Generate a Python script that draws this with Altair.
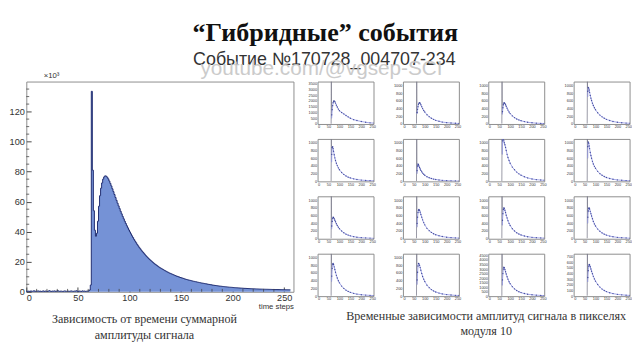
import altair as alt
import pandas as pd

TITLE = "“Гибридные” события"
SUBTITLE = "Событие №170728_004707-234"
WATERMARK = "youtube.com/@vgsep-SCI"
Y_UNIT = "×10³"
X_TITLE = "time steps"
CAPTION_LEFT = ["Зависимость от времени суммарной", "амплитуды сигнала"]
CAPTION_RIGHT = ["Временные зависимости амплитуд сигнала в пикселях", "модуля 10"]

# main histogram: counts (thousands) per time step bin 0..255
MAIN_COUNTS = [
    0.4, 0.3, 0.5, 0.2, 0.6, 0.3, 0.4, 0.7, 0.3, 0.5,
    0.4, 0.6, 0.3, 0.5, 0.2, 0.4, 0.6, 0.3, 0.5, 0.4,
    0.3, 0.5, 0.7, 0.4, 0.3, 0.5, 0.4, 0.6, 0.3, 0.4,
    0.8, 0.4, 0.3, 0.5, 0.4, 0.2, 0.5, 0.6, 0.3, 0.4,
    0.5, 0.3, 0.4, 0.6, 0.4, 0.3, 0.5, 0.4, 0.7, 0.4,
    0.3, 0.5, 0.4, 0.3, 0.6, 0.4, 0.5, 0.3, 0.4, 0.5,
    0.6, 1.2, 4.5, 133.5, 81, 54, 41, 37, 39, 47,
    57, 64, 69, 72.5, 75, 76.5, 77.2, 77, 76.3, 75.2,
    73.8, 72.2, 70.5, 68.6, 66.7, 64.8, 62.8, 60.9, 59, 57.2,
    55.4, 53.6, 51.9, 50.2, 48.6, 47, 45.5, 44, 42.6, 41.2,
    39.9, 38.6, 37.3, 36.1, 34.9, 33.8, 32.7, 31.6, 30.6, 29.6,
    28.7, 27.8, 26.9, 26.1, 25.3, 24.5, 23.7, 23, 22.3, 21.6,
    21, 20.4, 19.8, 19.2, 18.6, 18.1, 17.6, 17.1, 16.6, 16.1,
    15.7, 15.3, 14.9, 14.5, 14.1, 13.7, 13.3, 13, 12.6, 12.3,
    12, 11.7, 11.4, 11.1, 10.8, 10.5, 10.3, 10, 9.8, 9.5,
    9.3, 9.1, 8.9, 8.6, 8.4, 8.2, 8, 7.8, 7.7, 7.5,
    7.3, 7.1, 7, 6.8, 6.7, 6.5, 6.4, 6.2, 6.1, 5.9,
    5.8, 5.7, 5.55, 5.4, 5.3, 5.15, 5, 4.9, 4.75, 4.65,
    4.5, 4.4, 4.3, 4.2, 4.1, 4, 3.9, 3.8, 3.75, 3.65,
    3.55, 3.5, 3.4, 3.35, 3.25, 3.2, 3.1, 3.05, 3, 2.95,
    2.85, 2.8, 2.75, 2.7, 2.65, 2.6, 2.55, 2.5, 2.45, 2.4,
    2.35, 2.3, 2.28, 2.24, 2.2, 2.16, 2.12, 2.08, 2.05, 2.02,
    2, 1.97, 1.94, 1.91, 1.88, 1.85, 1.82, 1.8, 1.78, 1.75,
    1.72, 1.7, 1.68, 1.66, 1.64, 1.62, 1.6, 1.58, 1.56, 1.54,
    1.52, 1.5, 1.49, 1.48, 1.47, 1.46, 1.45, 1.44, 1.43, 1.42,
    1.41, 1.4, 1.39, 1.38, 1.37, 1.36,
]
MAIN_X_TICKS = [0, 50, 100, 150, 200, 250]
MAIN_Y_TICKS = [0, 20, 40, 60, 80, 100, 120]
MAIN_X_MINOR = [10, 20, 30, 40, 60, 70, 80, 90, 110, 120, 130, 140, 160, 170, 180, 190,
                210, 220, 230, 240]
MAIN_Y_MINOR = [5, 10, 15, 25, 30, 35, 45, 50, 55, 65, 70, 75, 85, 90, 95, 105, 110, 115,
                125, 130, 135]

# pixel panels (module 10): common time grid and per-panel amplitudes
PIX_T = [0, 55, 62, 63, 64, 65, 67, 69, 71, 73, 76, 79, 82, 86, 90, 95, 100, 110,
         120, 130, 140, 150, 165, 180, 200, 220, 240, 256]
PIX_1 = [0, 5, 20, 3700, 500, 800, 1250, 1600, 1850, 1980, 2020, 1950, 1820, 1640, 1480, 1300, 1150, 1000, 880, 740, 620, 500, 380, 300, 220, 150, 100, 80]
PIX_2 = [0, 3, 10, 1100, 260, 300, 380, 450, 510, 540, 550, 540, 500, 450, 400, 350, 310, 240, 190, 150, 120, 95, 70, 50, 35, 25, 18, 12]
PIX_3 = [0, 3, 10, 1100, 250, 320, 420, 500, 540, 550, 530, 500, 460, 410, 360, 310, 270, 210, 165, 130, 105, 85, 62, 45, 32, 22, 16, 12]
PIX_4 = [0, 3, 10, 1100, 700, 850, 950, 930, 880, 820, 740, 670, 610, 540, 480, 420, 370, 290, 230, 185, 150, 120, 90, 65, 45, 32, 24, 18]
PIX_5 = [0, 3, 10, 1100, 500, 700, 880, 900, 850, 780, 690, 610, 540, 470, 410, 350, 300, 230, 180, 140, 110, 90, 65, 48, 33, 24, 18, 14]
PIX_6 = [0, 3, 10, 1100, 200, 280, 400, 450, 430, 400, 360, 320, 285, 250, 215, 185, 160, 120, 95, 75, 60, 48, 36, 27, 19, 14, 10, 8]
PIX_7 = [0, 3, 10, 1100, 700, 1050, 1100, 1100, 1050, 1000, 950, 880, 800, 700, 620, 540, 470, 370, 300, 240, 195, 160, 120, 90, 62, 45, 35, 28]
PIX_8 = [0, 3, 10, 1100, 600, 900, 1020, 990, 920, 850, 750, 670, 600, 520, 450, 390, 340, 260, 200, 160, 125, 100, 75, 55, 38, 28, 20, 15]
PIX_9 = [0, 3, 10, 1100, 250, 330, 450, 530, 560, 550, 520, 480, 440, 390, 345, 300, 260, 200, 155, 120, 95, 75, 55, 40, 28, 20, 15, 11]
PIX_10 = [0, 3, 10, 1100, 300, 400, 560, 680, 740, 760, 740, 690, 630, 560, 490, 420, 360, 270, 210, 165, 130, 105, 78, 58, 40, 29, 21, 16]
PIX_11 = [0, 3, 10, 1100, 350, 480, 650, 760, 800, 790, 740, 680, 610, 540, 470, 400, 345, 260, 200, 155, 122, 98, 72, 53, 37, 27, 20, 15]
PIX_12 = [0, 3, 10, 1100, 400, 560, 720, 790, 800, 770, 710, 650, 590, 520, 450, 385, 330, 250, 195, 152, 120, 95, 70, 52, 36, 26, 19, 14]
PIX_13 = [0, 3, 10, 1100, 380, 520, 720, 830, 850, 820, 760, 690, 620, 540, 470, 400, 345, 260, 200, 155, 122, 98, 72, 53, 37, 27, 20, 15]
PIX_14 = [0, 3, 10, 1100, 300, 420, 620, 780, 850, 840, 800, 740, 670, 590, 510, 440, 380, 285, 220, 170, 135, 108, 80, 58, 40, 29, 21, 16]
PIX_15 = [0, 10, 30, 4700, 1200, 1800, 2500, 3000, 3200, 3150, 2950, 2700, 2450, 2150, 1880, 1600, 1380, 1050, 800, 620, 490, 390, 290, 215, 150, 110, 80, 60]
PIX_16 = [0, 2, 8, 750, 250, 330, 450, 530, 560, 550, 520, 480, 440, 395, 350, 305, 265, 205, 160, 125, 100, 80, 60, 45, 32, 23, 17, 13]
PIX_SERIES = [PIX_1, PIX_2, PIX_3, PIX_4, PIX_5, PIX_6, PIX_7, PIX_8,
              PIX_9, PIX_10, PIX_11, PIX_12, PIX_13, PIX_14, PIX_15, PIX_16]
PIX_YMAX = [3700, 1100, 1100, 1100, 1100, 1100, 1100, 1100,
            1100, 1100, 1100, 1100, 1100, 1100, 4700, 750]
PIX_YSTEP = [500, 200, 200, 200, 200, 200, 200, 200,
             200, 200, 200, 200, 200, 200, 500, 100]
PIX_X_TICKS = [0, 50, 100, 150, 200, 250]

FILL = "#7592d6"
DARK = "#1d2a6e"
FRAME = "#8a8a8a"
SERIF = "Liberation Serif"
SANS = "Liberation Sans"


def text_layer(txt, x, y, **kw):
    return alt.Chart(pd.DataFrame({"t": [txt]})).mark_text(baseline="alphabetic", **kw).encode(
        text="t:N", x=alt.value(x), y=alt.value(y))


header = alt.layer(
    text_layer(TITLE, 310, 27, font=SERIF, fontSize=27, fontWeight="bold", color="#111"),
    text_layer(SUBTITLE, 309, 52, font="Liberation Sans Narrow, Liberation Sans", fontSize=18.5, color="#333"),
    text_layer(WATERMARK, 306, 62, font=SANS, fontSize=21.5, color="#c6c6c6", opacity=0.9),
    text_layer(Y_UNIT, 18, 65, font=SANS, fontSize=8, color="#333", align="left"),
).properties(width=620, height=67, view=alt.ViewBackground(stroke="transparent"))

# main summed-amplitude histogram
MAIN_W, MAIN_H = 277, 218
main_df = pd.DataFrame({
    "t": list(range(len(MAIN_COUNTS) + 1)),
    "n": MAIN_COUNTS + [MAIN_COUNTS[-1]],
})
X_SCALE = alt.Scale(domain=[0, 259], nice=False)
Y_SCALE = alt.Scale(domain=[0, 140], nice=False)
X_AXIS = alt.Axis(
    values=MAIN_X_TICKS, format="d", offset=-5, tickSize=5, domain=False, grid=False,
    labelFontSize=9.5, labelPadding=1, labelOverlap=False, tickColor="#444",
    title=X_TITLE, titleAnchor="end", titleFontSize=8, titleFontWeight="normal",
    titlePadding=1)
Y_AXIS = alt.Axis(
    values=MAIN_Y_TICKS, format="d", offset=-5, tickSize=5, domain=False, grid=False,
    labelFontSize=9.5, labelPadding=2, labelOverlap=False, tickColor="#444", title=None)
MAIN_X = alt.X("t:Q", scale=X_SCALE, axis=X_AXIS)
MAIN_Y = alt.Y("n:Q", scale=Y_SCALE, axis=Y_AXIS)
main_area = alt.Chart(main_df).mark_area(interpolate="step-after", color=FILL).encode(
    x=MAIN_X, y=MAIN_Y)
main_line = alt.Chart(main_df).mark_line(interpolate="step-after", color=DARK, strokeWidth=1).encode(
    x=MAIN_X, y=MAIN_Y)
x_minor = alt.Chart(pd.DataFrame({"t": MAIN_X_MINOR})).mark_rule(color="#444", strokeWidth=0.8).encode(
    x=MAIN_X, y=alt.value(MAIN_H - 3), y2=alt.value(MAIN_H))
y_minor = alt.Chart(pd.DataFrame({"n": MAIN_Y_MINOR})).mark_rule(color="#444", strokeWidth=0.8).encode(
    y=MAIN_Y, x=alt.value(0), x2=alt.value(3))
main = alt.layer(main_area, main_line, x_minor, y_minor).properties(
    width=MAIN_W, height=MAIN_H,
    title=alt.TitleParams(CAPTION_LEFT, orient="bottom", anchor="middle", font=SERIF,
                          fontSize=12.5, fontWeight="normal", color="#333", offset=3,
                          dx=-16, lineHeight=16))


def pixel_cell(i):
    df = pd.DataFrame({"t": PIX_T, "a": PIX_SERIES[i]})
    yticks = list(range(0, PIX_YMAX[i] + 1, PIX_YSTEP[i]))
    X = alt.X("t:Q", scale=alt.Scale(domain=[0, 256], nice=False), axis=alt.Axis(
        values=PIX_X_TICKS, format="d", labelFontSize=4, labelPadding=1, tickSize=0,
        domain=False, grid=False, labelOverlap=False, title=None))
    Y = alt.Y("a:Q", scale=alt.Scale(domain=[0, PIX_YMAX[i]], nice=False), axis=alt.Axis(
        values=yticks, format="d", labelFontSize=4, labelPadding=1, tickSize=0,
        domain=False, grid=False, labelOverlap=False, title=None))
    spike = alt.Chart(df).transform_filter("datum.t >= 62 && datum.t <= 64").mark_line(
        color="#7d7d8c", strokeWidth=0.8, clip=True).encode(x=X, y=Y)
    curve = alt.Chart(df).transform_filter("datum.t >= 64").mark_line(
        color="#9a9ee6", strokeWidth=0.9, clip=True).encode(x=X, y=Y)
    pts = alt.Chart(df).transform_filter("datum.t >= 65").mark_circle(
        size=2, color="#25308a", opacity=0.8, clip=True).encode(x=X, y=Y)
    return alt.layer(spike, curve, pts).properties(width=58, height=44)


grid = alt.concat(
    *[pixel_cell(i) for i in range(len(PIX_SERIES))],
    columns=4,
    spacing={"row": 8.5, "column": 16.5},
    title=alt.TitleParams(CAPTION_RIGHT, orient="bottom", anchor="middle", font=SERIF,
                          fontSize=12.5, fontWeight="normal", color="#333", offset=9,
                          dx=17, lineHeight=16),
)

row = alt.hconcat(main, grid, spacing=13)

chart = alt.vconcat(header, row, spacing=0).properties(
    padding={"left": 0, "top": 0, "right": 0, "bottom": 0}
).configure_view(stroke=FRAME, strokeWidth=1).configure_axis(
    labelFont=SANS, titleFont=SANS, labelColor="#333", titleColor="#333")

chart.save("out.html", embed_options={"renderer": "svg", "actions": False})
